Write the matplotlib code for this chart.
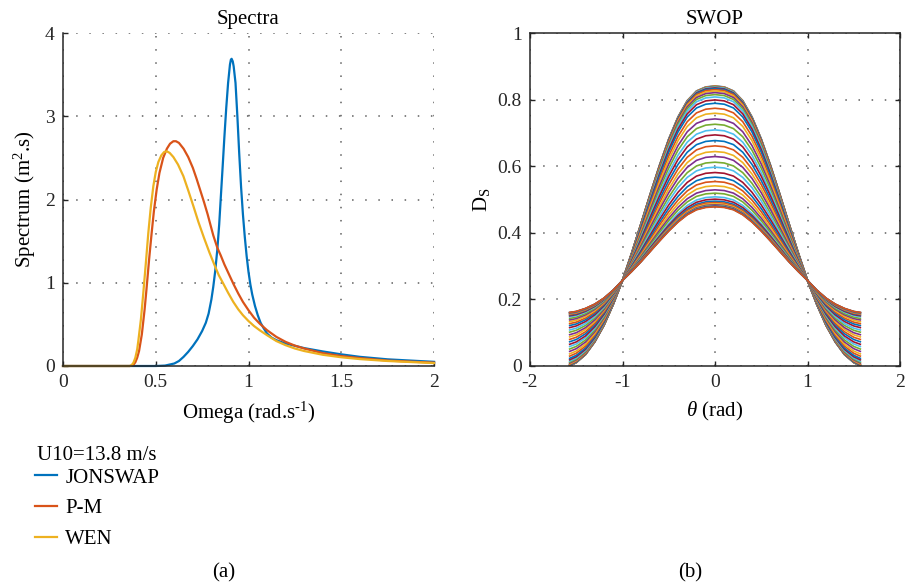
"""Wave spectra (JONSWAP / P-M / WEN) and SWOP directional spreading curves."""

import matplotlib

matplotlib.use("Agg")
import matplotlib.pyplot as plt
import numpy as np
from matplotlib.lines import Line2D

# MATLAB default line colours
BLUE = "#0072BD"
ORANGE = "#D95319"
YELLOW = "#EDB120"
CYCLE = ["#0072BD", "#D95319", "#EDB120", "#7E2F8E", "#77AC30", "#4DBEEE", "#A2142F"]
INK = "#262626"
GRID = "#5f5f5f"

# --- (a) spectra -----------------------------------------------------------
JONSWAP_W = [0.0, 0.5, 0.55, 0.6, 0.625, 0.65, 0.675, 0.7, 0.725, 0.75, 0.77,
             0.785, 0.8, 0.81, 0.82, 0.832, 0.842, 0.85, 0.86, 0.87, 0.88, 0.89,
             0.9, 0.905, 0.909, 0.915, 0.92, 0.93, 0.94, 0.95, 0.96, 0.97, 0.98,
             0.99, 1.0, 1.01, 1.02, 1.035, 1.05, 1.065, 1.08, 1.1, 1.125, 1.15,
             1.2, 1.3, 1.4, 1.5, 1.6, 1.75, 2.0]
JONSWAP_S = [0.0, 0.0, 0.005, 0.03, 0.06, 0.11, 0.17, 0.24, 0.32, 0.42, 0.52,
             0.63, 0.8, 0.95, 1.13, 1.4, 1.7, 2.0, 2.37, 2.75, 3.1, 3.4,
             3.62, 3.68, 3.69, 3.66, 3.6, 3.4, 3.0, 2.55, 2.15, 1.82, 1.55,
             1.32, 1.13, 0.98, 0.86, 0.72, 0.61, 0.52, 0.46, 0.39, 0.34, 0.31,
             0.27, 0.215, 0.175, 0.14, 0.11, 0.08, 0.05]

PM_W = [0.0, 0.36, 0.37, 0.38, 0.39, 0.4, 0.41, 0.425, 0.44, 0.45, 0.465, 0.478,
        0.49, 0.505, 0.52, 0.54, 0.56, 0.577, 0.595, 0.609, 0.625, 0.65, 0.675,
        0.7, 0.72, 0.74, 0.76, 0.78, 0.81, 0.832, 0.85, 0.87, 0.895, 0.92, 0.945,
        0.97, 1.0, 1.03, 1.06, 1.1, 1.15, 1.2, 1.25, 1.3, 1.4, 1.5, 1.6, 1.75, 2.0]
PM_S = [0.0, 0.0, 0.003, 0.015, 0.045, 0.1, 0.18, 0.38, 0.68, 0.92, 1.3, 1.6,
        1.86, 2.12, 2.32, 2.5, 2.61, 2.67, 2.7, 2.7, 2.68, 2.61, 2.51,
        2.38, 2.25, 2.11, 1.97, 1.82, 1.57, 1.42, 1.33, 1.22, 1.1, 0.98, 0.87,
        0.77, 0.67, 0.58, 0.51, 0.43, 0.35, 0.29, 0.245, 0.21, 0.155, 0.12, 0.095,
        0.065, 0.04]

WEN_W = [0.0, 0.36, 0.37, 0.38, 0.39, 0.4, 0.406, 0.42, 0.433, 0.446, 0.46, 0.473,
         0.487, 0.5, 0.514, 0.53, 0.545, 0.559, 0.575, 0.595, 0.62, 0.649, 0.675,
         0.703, 0.73, 0.76, 0.79, 0.819, 0.84, 0.864, 0.89, 0.918, 0.945, 0.97,
         1.0, 1.03, 1.06, 1.1, 1.15, 1.2, 1.25, 1.3, 1.4, 1.5, 1.6, 1.75, 2.0]
WEN_S = [0.0, 0.0, 0.01, 0.04, 0.1, 0.2, 0.3, 0.56, 0.88, 1.22, 1.6, 1.9,
         2.16, 2.33, 2.45, 2.53, 2.57, 2.58, 2.56, 2.51, 2.42, 2.28, 2.11,
         1.92, 1.73, 1.54, 1.36, 1.2, 1.09, 0.99, 0.88, 0.77, 0.68, 0.61,
         0.54, 0.48, 0.43, 0.37, 0.3, 0.25, 0.21, 0.18, 0.135, 0.105, 0.083, 0.06,
         0.035]

SPECTRA = [("JONSWAP", JONSWAP_W, JONSWAP_S, BLUE),
           ("P-M", PM_W, PM_S, ORANGE),
           ("WEN", WEN_W, WEN_S, YELLOW)]

# --- (b) SWOP spreading: outer envelopes and the peak of every curve --------
THETA = [-1.571, -1.5, -1.4, -1.3, -1.2, -1.1, -1.0, -0.9, -0.8, -0.7, -0.6, -0.5,
         -0.4, -0.3, -0.2, -0.1, 0.0, 0.1, 0.2, 0.3, 0.4, 0.5, 0.6, 0.7, 0.8,
         0.9, 1.0, 1.1, 1.2, 1.3, 1.4, 1.5, 1.571]
TOP_D = [0.0, 0.01, 0.034, 0.072, 0.122, 0.185, 0.257, 0.34, 0.428, 0.517, 0.603,
         0.682, 0.748, 0.797, 0.826, 0.838, 0.841, 0.838, 0.826, 0.797, 0.748,
         0.682, 0.603, 0.517, 0.428, 0.34, 0.257, 0.185, 0.122, 0.072, 0.034,
         0.01, 0.0]
BOTTOM_D = [0.161, 0.164, 0.173, 0.186, 0.204, 0.228, 0.257, 0.284, 0.313, 0.344,
            0.375, 0.405, 0.432, 0.454, 0.469, 0.476, 0.478, 0.476, 0.469, 0.454,
            0.432, 0.405, 0.375, 0.344, 0.313, 0.284, 0.257, 0.228, 0.204, 0.186,
            0.173, 0.164, 0.161]
PEAKS = [0.841, 0.8403, 0.84, 0.839, 0.838, 0.837, 0.835, 0.833, 0.83, 0.826,
         0.821, 0.815, 0.808, 0.799, 0.789, 0.774, 0.759, 0.742, 0.726, 0.709,
         0.694, 0.677, 0.661, 0.644, 0.629, 0.612, 0.597, 0.581, 0.567, 0.554,
         0.541, 0.529, 0.519, 0.508, 0.501, 0.495, 0.491, 0.487, 0.484, 0.482,
         0.481, 0.48, 0.479, 0.478]

plt.rcParams.update({
    "font.family": "Liberation Serif",
    "mathtext.fontset": "custom",
    "mathtext.rm": "Liberation Serif",
    "mathtext.it": "Liberation Serif:italic",
    "axes.unicode_minus": False,
    "font.size": 15,
})
TEXT = 15
TICK = 14


def _style(ax, box):
    ax.grid(True, color=GRID, linestyle=(0, (1, 7.6)), linewidth=1.1)
    ax.set_axisbelow(True)
    ax.tick_params(direction="in", length=3.5, width=1.0, colors=INK,
                   labelsize=TICK, pad=6, top=box, right=box)
    for side, spine in ax.spines.items():
        spine.set_color(INK)
        spine.set_linewidth(1.1)
        if not box and side in ("top", "right"):
            spine.set_visible(False)


fig = plt.figure(figsize=(9.06, 5.88), dpi=100, facecolor="white")
ax_a = fig.add_axes([63 / 906, 1 - 366 / 588, 371 / 906, 333 / 588])
ax_b = fig.add_axes([530 / 906, 1 - 366 / 588, 370 / 906, 333 / 588])

for name, omega, spec, color in SPECTRA:
    ax_a.plot(omega, spec, color=color, linewidth=1.6, label=name, clip_on=False)
ax_a.set(xlim=(0, 2), ylim=(0, 4))
ax_a.set_xticks([0, 0.5, 1, 1.5, 2], ["0", "0.5", "1", "1.5", "2"])
ax_a.set_yticks([0, 1, 2, 3, 4])
ax_a.set_xlabel("Omega (rad.s$^{\\mathrm{\u20101}}$)", fontsize=TEXT, labelpad=6)
ax_a.set_ylabel(r"Spectrum (m$^{\mathrm{2}}$.s)", fontsize=TEXT, labelpad=5)
ax_a.set_title("Spectra", fontsize=TEXT, pad=6.5)
_style(ax_a, box=False)

theta = np.asarray(THETA)
top = np.asarray(TOP_D)
bottom = np.asarray(BOTTOM_D)
mid = len(THETA) // 2
for k, peak in enumerate(PEAKS):
    w = (peak - bottom[mid]) / (top[mid] - bottom[mid])
    ax_b.plot(theta, bottom + w * (top - bottom), color=CYCLE[k % len(CYCLE)],
              linewidth=1.2)
ax_b.set(xlim=(-2, 2), ylim=(0, 1))
ax_b.set_xticks([-2, -1, 0, 1, 2])
ax_b.set_yticks([0, 0.2, 0.4, 0.6, 0.8, 1], ["0", "0.2", "0.4", "0.6", "0.8", "1"])
ax_b.set_xlabel(r"$\theta$ (rad)", fontsize=TEXT, labelpad=6)
ax_b.set_ylabel(r"D$_{\mathrm{S}}$", fontsize=TEXT, labelpad=4)
ax_b.set_title("SWOP", fontsize=TEXT, pad=6.5)
_style(ax_b, box=True)

fig.text(37 / 906, 1 - 455 / 588, "U10=13.8 m/s", ha="left", va="center",
         fontsize=TEXT)
handles = [Line2D([0], [0], color=c, linewidth=1.6) for _, _, _, c in SPECTRA]
fig.legend(handles, [n for n, _, _, _ in SPECTRA],
           loc="upper left", bbox_to_anchor=(35 / 906, 1 - 468 / 588),
           frameon=False, fontsize=TEXT,
           handlelength=1.05, handletextpad=0.4, labelspacing=0.53,
           borderpad=0, borderaxespad=0)

fig.text(224 / 906, 1 - 573 / 588, "(a)", ha="center", va="center", fontsize=TEXT)
fig.text(690 / 906, 1 - 573 / 588, "(b)", ha="center", va="center", fontsize=TEXT)

fig.savefig("out.png", dpi=100, facecolor="white")
